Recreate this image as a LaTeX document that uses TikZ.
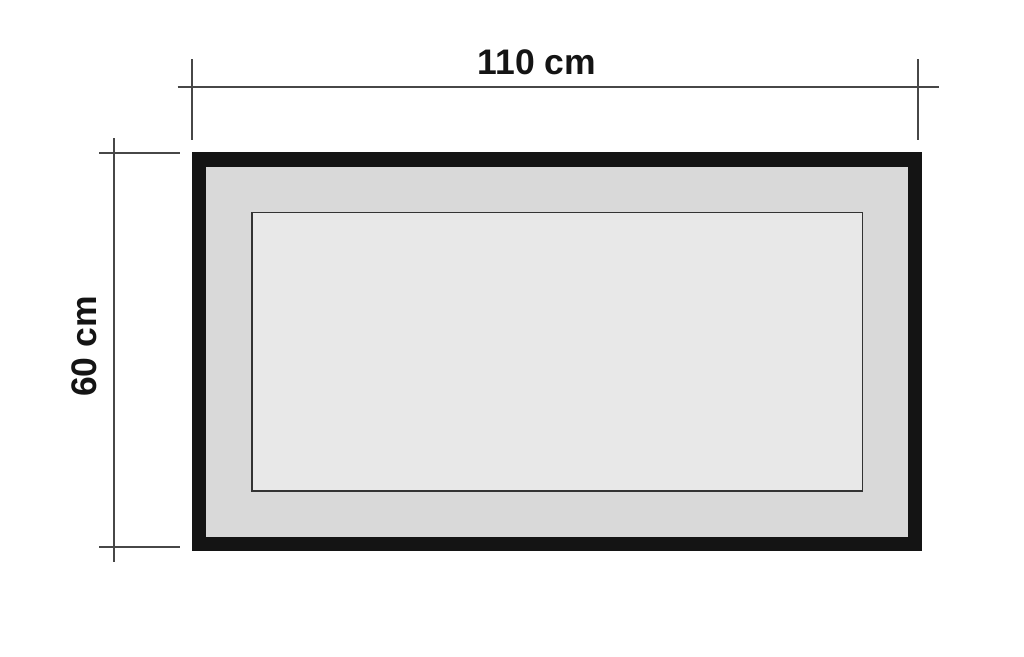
\documentclass[tikz,border=0pt]{standalone}
\usepackage{fontspec}
\setmainfont{Liberation Sans}
\begin{document}
\begin{tikzpicture}[x=1pt,y=-1pt,
  dimline/.style={draw=black!72, line width=1.8pt},
  dimlabel/.style={font=\fontsize{35.5}{40}\selectfont\bfseries, text=black!92, inner sep=0pt},
  framebox/.style={fill=black!92, draw=none},
  matbox/.style={fill=black!15, draw=none},
  picbox/.style={fill=black!9, draw=black!80, line width=1.2pt}]
\useasboundingbox (0,0) rectangle (1024,656);
% frame
\path[framebox] (191.7,152.3) rectangle (922.3,550.7);
\path[matbox] (206,166.7) rectangle (907.7,536.7);
\path[picbox] (252,212.3) rectangle (862.7,491);
% top dimension
\coordinate (tl) at (192.3,59);
\coordinate (tlb) at (192.3,140);
\coordinate (tr) at (918,59);
\coordinate (trb) at (918,140);
\coordinate (hl) at (177.7,86.7);
\coordinate (hr) at (939,86.7);
\draw[dimline] (tl) -- (tlb);
\draw[dimline] (tr) -- (trb);
\draw[dimline] (hl) -- (hr);
\node[dimlabel] (wlabel) at (536.7,62) {110 cm};
% left dimension
\coordinate (vt) at (114.3,138);
\coordinate (vb) at (114.3,561.7);
\coordinate (ht1) at (99,152.7);
\coordinate (ht2) at (180,152.7);
\coordinate (hb1) at (99,547.3);
\coordinate (hb2) at (180,547.3);
\draw[dimline] (vt) -- (vb);
\draw[dimline] (ht1) -- (ht2);
\draw[dimline] (hb1) -- (hb2);
\node[dimlabel, rotate=90] (hlabel) at (84,346.5) {60 cm};
\end{tikzpicture}
\end{document}
